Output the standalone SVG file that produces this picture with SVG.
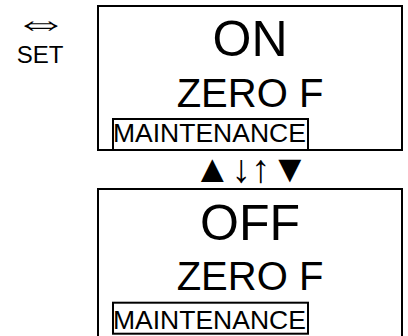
<svg xmlns="http://www.w3.org/2000/svg" width="408" height="336" viewBox="0 0 408 336">
<style>
text{font-family:"Liberation Sans",Arial,sans-serif;fill:#000}
.box{fill:#fff;stroke:#000;stroke-width:2}
.tag{fill:none;stroke:#000;stroke-width:2}
.big{font-size:50px;text-anchor:middle}
.mid{font-size:40px;text-anchor:middle}
.sm{font-size:26.5px}
</style>
<rect width="408" height="336" fill="#fff"/>
<g id="set-key">
<text transform="translate(41,34.5) scale(1.47,1)" x="0" y="0" font-size="38" text-anchor="middle">⇔</text>
<text x="40" y="63" font-size="24" text-anchor="middle">SET</text>
</g>
<g id="display-on">
<rect class="box" x="98" y="6" width="304" height="144"/>
<text class="big" x="250" y="56">ON</text>
<text class="mid" x="250" y="107">ZERO F</text>
<rect class="tag" x="113" y="119" width="195" height="31"/>
<text class="sm" x="113" y="142">MAINTENANCE</text>
</g>
<g id="connectors">
<text x="251" y="182" font-size="39" text-anchor="middle">▲↓↑▼</text>
</g>
<g id="display-off">
<rect class="box" x="98" y="189" width="304" height="160"/>
<text class="big" x="250" y="240">OFF</text>
<text class="mid" x="250" y="290">ZERO F</text>
<rect class="tag" x="113" y="302.7" width="195" height="31"/>
<text class="sm" x="113" y="329">MAINTENANCE</text>
</g>
</svg>
